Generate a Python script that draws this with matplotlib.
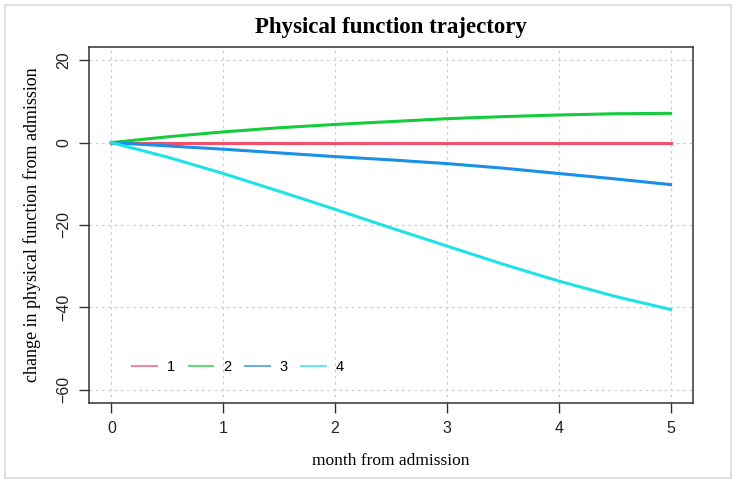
import matplotlib
matplotlib.use("Agg")
import matplotlib.pyplot as plt
from matplotlib.patches import Rectangle

# months since admission
months = [0, 0.5, 1, 1.5, 2, 2.5, 3, 3.5, 4, 4.5, 5]

# trajectory groups (change in physical function)
group1 = [0, 0, 0, 0, 0, 0, 0, 0, 0, 0, 0]
group2 = [0, 1.4, 2.6, 3.6, 4.4, 5.1, 5.8, 6.3, 6.7, 7.0, 7.1]
group3 = [0, -0.8, -1.6, -2.5, -3.4, -4.2, -5.1, -6.2, -7.5, -8.8, -10.2]
group4 = [0, -3.5, -7.5, -11.8, -16.2, -20.7, -25.1, -29.5, -33.6, -37.3, -40.5]

labels = ["1", "2", "3", "4"]
colors = ["#F0506A", "#16CC3C", "#1A90E6", "#1EE3E6"]
xticks = [0, 1, 2, 3, 4, 5]
yticks = [-60, -40, -20, 0, 20]

fig = plt.figure(figsize=(7.36, 4.83), dpi=100)
fig.patches.append(Rectangle((5 / 736, 5 / 483), 726 / 736, 473 / 483,
                             transform=fig.transFigure, fill=False,
                             edgecolor="#d9d9d9", linewidth=1.2))
ax = fig.add_axes([89 / 736, 1 - 403 / 483, 604 / 736, 356 / 483])

series = [group1, group2, group3, group4]
for vals, lab, col in zip(series, labels, colors):
    ax.plot(months, vals, color=col, linewidth=2.2, label=lab)

ax.set_xlim(-0.2, 5.2)
ax.set_ylim(-63.2, 23.2)
ax.set_xticks(xticks)
ax.set_yticks(yticks)
ax.grid(True, color="#cccccc", linestyle=(0, (2, 3)), linewidth=0.9)
ax.set_axisbelow(True)

for sp in ax.spines.values():
    sp.set_linewidth(1.1)
    sp.set_color("#333333")

ax.tick_params(direction="out", length=7, width=1.0, color="#333333",
               labelsize=11.5, pad=6)
for t in ax.get_xticklabels() + ax.get_yticklabels():
    t.set_family("Liberation Sans")
    t.set_color("#222222")
for t in ax.get_yticklabels():
    t.set_rotation(90)
    t.set_va("center")

ax.set_title("Physical function trajectory", family="Liberation Serif",
             fontweight="bold", fontsize=16.5, pad=10)
ax.set_xlabel("month from admission", family="Liberation Serif", fontsize=12.5,
              labelpad=12)
ax.set_ylabel("change in physical function from admission",
              family="Liberation Serif", fontsize=13, labelpad=11)

leg = ax.legend(loc="lower left", bbox_to_anchor=(0.05, 0.045), ncol=4,
                frameon=False, handlelength=1.7, handletextpad=0.7,
                columnspacing=0.9,
                prop={"family": "Liberation Sans", "size": 10.5})
for h in leg.get_lines():
    h.set_linewidth(1.4)
    h.set_alpha(0.7)

fig.savefig("out.png", dpi=100)
